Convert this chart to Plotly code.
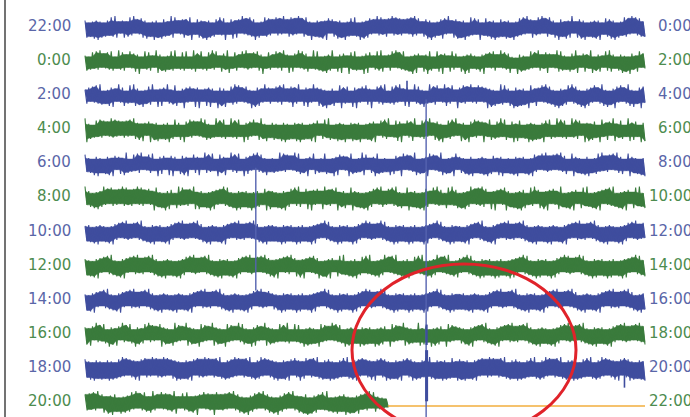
import numpy as np
import plotly.graph_objects as go

# ---------------- data ----------------
left_labels = ["22:00", "0:00", "2:00", "4:00", "6:00", "8:00",
               "10:00", "12:00", "14:00", "16:00", "18:00", "20:00"]
right_labels = ["0:00", "2:00", "4:00", "6:00", "8:00", "10:00",
                "12:00", "14:00", "16:00", "18:00", "20:00", "22:00"]
row_kind = ["b", "g", "b", "g", "b", "g", "b", "g", "b", "g", "b", "g"]
row_minutes = [120, 120, 120, 120, 120, 120, 120, 120, 120, 120, 120, 65]

# successive swing amplitudes of each trace (one digit per swing, alternating up / down)
swings = [
    ("5736485947365586974357468593647758364957386645978354676589346758495736648579346857639475866937458675"
     "6385749366857493768549365748597366485739467586394857746395846673958475637486957346685937456874935768"
     "4759368574693576485937664857394675849367558493768457396648579347685936475859347668593745867493857646"),
    ("4635748593647586349576538467593485764398563745869435768435976485367495834765983476538495647386593475"
     "5384769358476394856734958637485694375863497586354968734586974356839475863749586347598634875963478563"
     "3749586445375963748653947568342957463584739654786354978645376598436754983657438697543658473965478364"),
    ("4563748596354768539467358497563845769348576395468734596473586943576854396758347695836475493867549365"
     "5374869354786593476854936758493657348965743869547386594375869435768493576843957648359476835497658349"
     "6485739465837469584735968457396847563984576384957648395746839576483957648365974836597483659748356974"),
    ("9946357485736495847365748396574853694758364759368457396485736495874635947586349576843957648357964835"
     "5746385947365849573648597346859736485749365847593647586943758694357869437568943576849357684935768493"
     "4857396485736954873665948735694875364958473659748635948576349586734958476539845763984576349857643958"),
    ("7546385946375849635748963574869354768439576348695437685943765843967584397658439576843957648395764835"
     "4635948573649587364953873645873649587364598736459873465987364538376459837465983746598374659837465983"
     "5647385936475849376548593647385946573849756384956473849567348956473859364785946573849657348956473849"),
    ("9456374856947385647395846573948563745986473958643795846573984856374958647395864739584657394856347958"
     "5647385946738596437859647358946573894657348956473849567384965473859647358946573849765384956437849567"
     "3748569374859673485963748956374859673485936748596374589637485963478596374859637485963748596347859637"),
    ("4657384956473849657384956473859647385946573849657384956473849567384956473859647385946573849567384956"
     "5647395846573948563749586473958647395846573948657394856473958647395846573948563749586473958647395846"
     "4738596473859647385964738594657384965738495647384956473859647385946573849657384956473849567384956473"),
    ("5647385964738596473859647385946573849657384956473849567384956473859647385946573849657384956473849567"
     "4859637485936748596374856937485963478596374859367485963748569374859637485936748596374856937485963748"
     "6473958647395846573948563749586473958647395846573948657394856473958647395846573948563749586473958647"),
    ("4738596473859647385964738594657384965738495647384956473859647385946573849657384956473849567384956473"
     "5647395846573948563749586473958647395846573948657394856473958647395846573948563749586473958647395846"
     "4657384956473849657384956473859647385946573849657384956473849567384956473859647385946573849567384956"),
    ("5748639574863957486395748639574683957463895746389574639857463985746398574639857463958746395874639857"
     "4635847596348576394857463985746394857639485746395847563948576439857463985746359847653948576439857463"
     "5647385964738596473859647385946573849657384956473849567384956473859647385946573849657384956473849567"),
    ("7658496758476958477695847668597486759486769584776958476859748676958476859748677695847685974867958476"
     "6859476859748669578476859748677958476685974869758476685974867958476859748679584766859748675968478659"
     "7859674869758476958476859748677958476685974867958476859748676958477685974867958476685974867958476859"),
    ("6574859367485966384756849375864795638475669843758647596384756984657483956748395674839567483956748395"
     "57486938576485963748566948375864759386443322"),
]

# seismic events: minute within row, top / bottom in row units
event_minute = [73.1, 36.6, 73.2, 73.2, 69.0, 115.6]
event_top = [2.10, 4.10, 9.45, 8.70, 1.55, 10.00]
event_bottom = [11.45, 7.70, 10.95, 9.30, 2.00, 10.55]
event_kind = ["thin", "thin", "thick", "mid", "spike", "spike"]

gap_start_minute = 64.9  # end of recorded data in the last row

# ---------------- styling ----------------
W, H = 690, 417
ROW_PX = 34.09
TRACE_X0, TRACE_X1 = 85, 645
min_per_px = 120.0 / (TRACE_X1 - TRACE_X0)
x_min = -TRACE_X0 * min_per_px
x_max = (W - TRACE_X0) * min_per_px
y_top = -28 / ROW_PX
y_bot = y_top + H / ROW_PX

trace_col = {"b": "#3f4d9e", "g": "#3a7b3c"}
label_col = {"b": "#5a66a8", "g": "#4d8c4f"}

def amp_rows(s):
    return np.array([(2.0 + 1.1 * int(c)) / ROW_PX for c in s])

def rolling_min3(v):
    p = np.concatenate([[v[0]], v, [v[-1]]])
    return np.minimum(np.minimum(p[:-2], p[1:-1]), p[2:])

fig = go.Figure()

for i, kind in enumerate(row_kind):
    a = amp_rows(swings[i])
    xs = np.linspace(0, row_minutes[i], len(a))
    sign = np.where(np.arange(len(a)) % 2 == 0, -1.0, 1.0)
    ys = i + sign * a
    # solid core of the band (local minimum of the swings on each side)
    up_x, up_a = xs[0::2], rolling_min3(a[0::2])
    dn_x, dn_a = xs[1::2], rolling_min3(a[1::2])
    fig.add_trace(go.Scatter(
        x=np.concatenate([up_x, dn_x[::-1]]),
        y=np.concatenate([i - up_a, (i + dn_a)[::-1]]),
        mode="lines", fill="toself", fillcolor=trace_col[kind],
        line=dict(color=trace_col[kind], width=0.5),
        hoverinfo="skip", showlegend=False))
    # the trace swings themselves
    fig.add_trace(go.Scatter(
        x=xs, y=ys, mode="lines",
        line=dict(color=trace_col[kind], width=1.1),
        hoverinfo="skip", showlegend=False))

# orange "no data" line in the last row
fig.add_trace(go.Scatter(
    x=[gap_start_minute, 120], y=[11 + 3 / ROW_PX, 11 + 3 / ROW_PX],
    mode="lines", line=dict(color="#f2ae3d", width=1.6),
    hoverinfo="skip", showlegend=False))

ev_width = {"thin": 1.4, "thick": 3.0, "mid": 2.2, "spike": 1.6}
ev_color = {"thin": "#5563b0", "thick": "#3f4d9e", "mid": "#3f4d9e", "spike": "#3f4d9e"}
for m, t, b, k in zip(event_minute, event_top, event_bottom, event_kind):
    fig.add_trace(go.Scatter(
        x=[m, m], y=[t, b], mode="lines",
        line=dict(color=ev_color[k], width=ev_width[k]),
        hoverinfo="skip", showlegend=False))

annotations = []
for i, kind in enumerate(row_kind):
    annotations.append(dict(
        x=73 / W, y=i, xref="paper", yref="y",
        text=left_labels[i], showarrow=False, xanchor="right", yanchor="middle",
        yshift=2, font=dict(family="DejaVu Sans", size=15, color=label_col[kind])))
    annotations.append(dict(
        x=694 / W, y=i, xref="paper", yref="y",
        text=right_labels[i], showarrow=False, xanchor="right", yanchor="middle",
        yshift=2, font=dict(family="DejaVu Sans", size=15, color=label_col[kind])))

shapes = [
    dict(type="circle", xref="x", yref="y",
         x0=(352 - TRACE_X0) * min_per_px, x1=(576 - TRACE_X0) * min_per_px,
         y0=(264 - 28) / ROW_PX, y1=(436 - 28) / ROW_PX,
         line=dict(color="#e0232a", width=3)),
    dict(type="line", xref="paper", yref="paper",
         x0=5 / W, x1=5 / W, y0=0, y1=1,
         line=dict(color="#444444", width=1.5)),
]

fig.update_layout(
    width=W, height=H,
    margin=dict(l=0, r=0, t=0, b=0),
    paper_bgcolor="white", plot_bgcolor="white",
    xaxis=dict(visible=False, range=[x_min, x_max], fixedrange=True),
    yaxis=dict(visible=False, range=[y_bot, y_top], fixedrange=True),
    annotations=annotations, shapes=shapes,
    hovermode=False, showlegend=False,
)

fig.write_html("out.html", config={"displayModeBar": False},
               post_script="document.body.style.margin='0';document.body.style.overflow='hidden';")
